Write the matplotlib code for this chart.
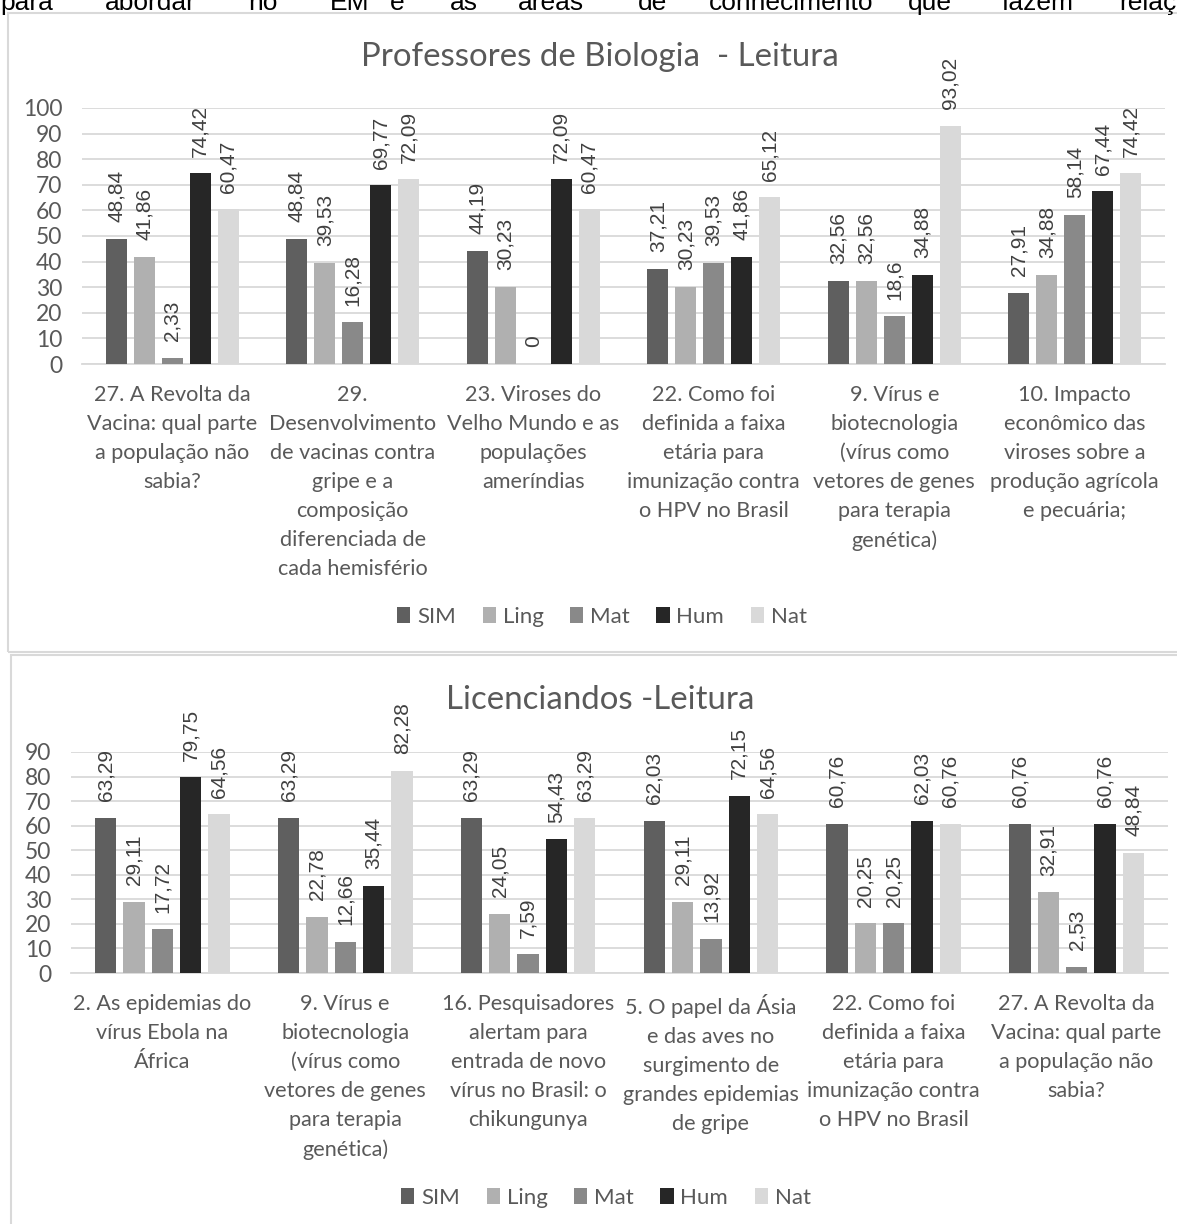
import matplotlib
matplotlib.use("Agg")
import matplotlib.pyplot as plt
import numpy as np
from matplotlib import font_manager
from matplotlib.patches import Rectangle, Patch

# ---------------- data ----------------
series = ["SIM", "Ling", "Mat", "Hum", "Nat"]
colors = ["#5f5f5f", "#b0b0b0", "#898989", "#262626", "#d9d9d9"]

top_title = "Professores de Biologia  - Leitura"
top_categories = [
    "27. A Revolta da\nVacina: qual parte\na população não\nsabia?",
    "29.\nDesenvolvimento\nde vacinas contra\ngripe e a\ncomposição\ndiferenciada de\ncada hemisfério",
    "23. Viroses do\nVelho Mundo e as\npopulações\nameríndias",
    "22. Como foi\ndefinida a faixa\netária para\nimunização contra\no HPV no Brasil",
    "9. Vírus e\nbiotecnologia\n(vírus como\nvetores de genes\npara terapia\ngenética)",
    "10. Impacto\neconômico das\nviroses sobre a\nprodução agrícola\ne pecuária;",
]
top_SIM = [48.84, 48.84, 44.19, 37.21, 32.56, 27.91]
top_Ling = [41.86, 39.53, 30.23, 30.23, 32.56, 34.88]
top_Mat = [2.33, 16.28, 0, 39.53, 18.6, 58.14]
top_Hum = [74.42, 69.77, 72.09, 41.86, 34.88, 67.44]
top_Nat = [60.47, 72.09, 60.47, 65.12, 93.02, 74.42]
top_yticks = [0, 10, 20, 30, 40, 50, 60, 70, 80, 90, 100]

bot_title = "Licenciandos -Leitura"
bot_categories = [
    "2. As epidemias do\nvírus Ebola na\nÁfrica",
    "9. Vírus e\nbiotecnologia\n(vírus como\nvetores de genes\npara terapia\ngenética)",
    "16. Pesquisadores\nalertam para\nentrada de novo\nvírus no Brasil: o\nchikungunya",
    "5. O papel da Ásia\ne das aves no\nsurgimento de\ngrandes epidemias\nde gripe",
    "22. Como foi\ndefinida a faixa\netária para\nimunização contra\no HPV no Brasil",
    "27. A Revolta da\nVacina: qual parte\na população não\nsabia?",
]
bot_SIM = [63.29, 63.29, 63.29, 62.03, 60.76, 60.76]
bot_Ling = [29.11, 22.78, 24.05, 29.11, 20.25, 32.91]
bot_Mat = [17.72, 12.66, 7.59, 13.92, 20.25, 2.53]
bot_Hum = [79.75, 35.44, 54.43, 72.15, 62.03, 60.76]
bot_Nat = [64.56, 82.28, 63.29, 64.56, 60.76, 48.84]
bot_yticks = [0, 10, 20, 30, 40, 50, 60, 70, 80, 90]

header_words = ["para", "abordar", "no", "EM", "e", "as", "áreas", "de",
                "conhecimento", "que", "fazem", "relação"]
header_x = [0, 105, 248, 330, 390, 450, 518, 638, 709, 908, 1002, 1119]

# ---------------- fonts ----------------
avail = {f.name for f in font_manager.fontManager.ttflist}
def pick(*names):
    for n in names:
        if n in avail:
            return n
    return "DejaVu Sans"
NARROW = pick("Liberation Sans Narrow", "Lato", "Liberation Sans")
ARIAL = pick("Liberation Sans", "DejaVu Sans")
plt.rcParams["font.family"] = [NARROW, "DejaVu Sans"]

W, H = 1177, 1224
fig = plt.figure(figsize=(W / 100, H / 100), dpi=100)
fig.patch.set_facecolor("white")

def fx(px):
    return px / W
def fy(py):
    return 1 - py / H

# header text (cut at top of figure, as in the source page)
for w, x in zip(header_words, header_x):
    fig.text(fx(x), fy(10), w, fontsize=19, family=[ARIAL, "DejaVu Sans"],
             color="black", ha="left", va="baseline")

# chart frames
fig.patches.append(Rectangle((fx(8), fy(652)), 1.2, fy(13) - fy(652),
                             transform=fig.transFigure, fill=False,
                             edgecolor="#d9d9d9", linewidth=1.5))
fig.patches.append(Rectangle((fx(11), fy(1240)), 1.2, fy(655) - fy(1240),
                             transform=fig.transFigure, fill=False,
                             edgecolor="#d9d9d9", linewidth=1.5))

GREY = "#595959"
LBL = "#404040"
pitch = 0.155
bw = 0.117

def draw(ax, cats, vals, yticks, ymax, title, title_y, legend_y, legend_x):
    x = np.arange(len(cats))
    for i, (s, c) in enumerate(zip(series, colors)):
        off = (i - 2) * pitch
        ax.bar(x + off, vals[i], width=bw, color=c, zorder=3)
        for xb, v in zip(x + off, vals[i]):
            ax.annotate(f"{v:g}".replace(".", ","), (xb, v),
                        xytext=(0, 12), textcoords="offset points",
                        rotation=90, ha="center", va="bottom",
                        fontsize=15, color=LBL, family=[ARIAL, "DejaVu Sans"],
                        annotation_clip=False)
    ax.set_xlim(-0.5, len(cats) - 0.5)
    ax.set_ylim(0, ymax)
    ax.set_yticks(yticks)
    ax.set_xticks(x)
    ax.set_xticklabels(cats, fontsize=15.6, color=GREY, linespacing=1.56)
    ax.tick_params(axis="x", length=0, pad=15)
    ax.tick_params(axis="y", length=0, pad=14, labelsize=16.5, labelcolor=GREY)
    ax.yaxis.grid(True, color="#d9d9d9", linewidth=1.3, zorder=0)
    ax.set_axisbelow(True)
    for sp in ["top", "right", "left"]:
        ax.spines[sp].set_visible(False)
    ax.spines["bottom"].set_color("#d9d9d9")
    ax.spines["bottom"].set_linewidth(1.3)
    ax.spines["bottom"].set_zorder(1)
    fig.text(fx(600), fy(title_y), title, fontsize=23.8, color=GREY,
             ha="center", va="center")
    handles = [Patch(facecolor=c, edgecolor="none") for c in colors]
    fig.legend(handles, series, loc="center",
               bbox_to_anchor=(fx(legend_x), fy(legend_y)), ncol=5,
               frameon=False, fontsize=16, labelcolor=GREY,
               handlelength=0.6, handleheight=0.75, handletextpad=0.3,
               columnspacing=1.2)

ax1 = fig.add_axes([fx(82), fy(364), fx(1165) - fx(82), fy(108) - fy(364)])
draw(ax1, top_categories, [top_SIM, top_Ling, top_Mat, top_Hum, top_Nat],
     top_yticks, 100, top_title, 57, 617, 602)

ax2 = fig.add_axes([fx(71), fy(973), fx(1168) - fx(71), fy(752) - fy(973)])
draw(ax2, bot_categories, [bot_SIM, bot_Ling, bot_Mat, bot_Hum, bot_Nat],
     bot_yticks, 90, bot_title, 700, 1198, 606)

fig.savefig("out.png", dpi=100, facecolor="white")
